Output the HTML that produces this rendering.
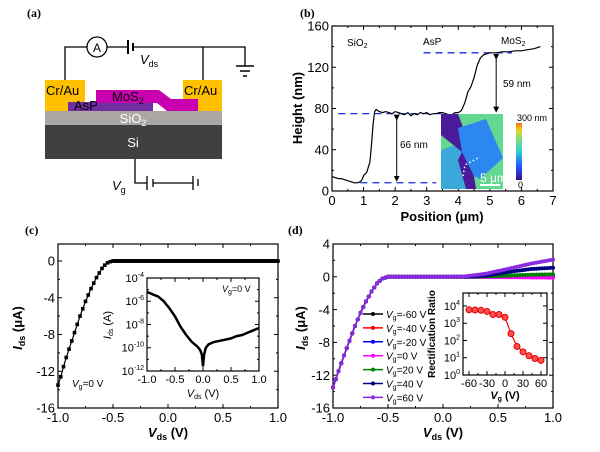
<!DOCTYPE html>
<html><head><meta charset="utf-8"><style>
html,body{margin:0;padding:0;background:#fff}
svg{display:block;font-family:"Liberation Sans",sans-serif}
</style></head><body>
<svg id="fig" width="600" height="452" viewBox="0 0 600 452" xmlns="http://www.w3.org/2000/svg">
<defs>
<linearGradient id="cbar" x1="0" y1="1" x2="0" y2="0">
<stop offset="0" stop-color="#3a0a8a"/><stop offset="0.25" stop-color="#1f5fff"/><stop offset="0.5" stop-color="#2ad0d0"/><stop offset="0.72" stop-color="#7ee07a"/><stop offset="0.88" stop-color="#f0d020"/><stop offset="1" stop-color="#f07010"/>
</linearGradient>
<marker id="arr" markerWidth="6" markerHeight="6" refX="3" refY="3" orient="auto"><path d="M0,0 L6,3 L0,6 z" fill="#000"/></marker>
</defs>
<g>
<text x="27" y="17" font-family="Liberation Serif" font-weight="bold" font-size="12">(a)</text>
<rect x="45" y="125" width="177" height="34" fill="#404040"/>
<text x="133" y="147" fill="#fff" font-size="13" text-anchor="middle">Si</text>
<rect x="45" y="111" width="177" height="14" fill="#aaa7a4"/>
<text x="133" y="123" fill="#fff" font-size="13" text-anchor="middle">SiO<tspan font-size="9" dy="3">2</tspan></text>
<rect x="45" y="80" width="40" height="31" fill="#ffc000"/>
<rect x="183" y="80" width="39" height="31" fill="#ffc000"/>
<rect x="68" y="102" width="85" height="9" fill="#7030a0"/>
<path d="M96,90 L159,90 L171,99 L198,99 L198,111 L167,111 L157,103 L96,103 Z" fill="#c800b0"/>
<text x="46" y="95" font-size="13">Cr/Au</text>
<text x="184" y="95" font-size="13">Cr/Au</text>
<text x="112" y="101" font-size="13">MoS<tspan font-size="9" dy="3">2</tspan></text>
<text x="74" y="110" font-size="13">AsP</text>
<g stroke="#000" stroke-width="1.3" fill="none">
<path d="M65,80 V47 H87 M107,47 H128 M133,47 H245 V66 M203,47 V80"/>
<circle cx="97" cy="47" r="10" fill="#fff"/>
<path d="M128,40 V54 M133,43 V51" stroke-width="2"/>
<path d="M236,66 H254 M240,71 H250 M243,76 H247" stroke-width="1.5"/>
<path d="M135,159 V183 H147 M153,183 H193 M147,176 V190 M153,179 V187 M193,176 V190 M198,179 V186" />
</g>
<text x="97" y="52" font-size="12" text-anchor="middle">A</text>
<text x="140" y="64" font-size="13"><tspan font-style="italic">V</tspan><tspan font-size="9" dy="3">ds</tspan></text>
<text x="112" y="190" font-size="13"><tspan font-style="italic">V</tspan><tspan font-size="9" dy="3">g</tspan></text>
</g>
<g id="pb"></g>
<g id="pc"></g>
<g id="pd"></g>
</svg>
<script>
// Panel b data
const profX = [0,0.1,0.2,0.3,0.4,0.5,0.6,0.7,0.8,0.9,0.95,1.0,1.1,1.2,1.25,1.3,1.35,1.4,1.45,1.5,1.6,1.7,1.8,1.9,2.0,2.1,2.2,2.3,2.4,2.5,2.6,2.7,2.8,2.9,3.0,3.1,3.2,3.3,3.4,3.5,3.6,3.7,3.8,3.9,4.0,4.1,4.2,4.25,4.3,4.4,4.5,4.6,4.7,4.8,4.9,5.0,5.2,5.4,5.6,5.8,6.0,6.2,6.4,6.6];
const profH = [14,13,12,12,11,10,9,8,8,9,11,15,18,28,45,64,77,79,78,77,76,77,76,75,77,76,75,74,76,73,75,74,76,75,76,74,75,75,76,76,75,74,74,76,76,78,85,90,96,101,110,122,129,132,133,134,134,135,135,136,136,137,138,140];
const levelsB = [8,75,134];
const ticksBX = [0,1,2,3,4,5,6,7];
const ticksBY = [0,40,80,120,160];
// Panel c data
const ivX = [-1,-0.975,-0.95,-0.925,-0.9,-0.875,-0.85,-0.825,-0.8,-0.775,-0.75,-0.725,-0.7,-0.675,-0.65,-0.625,-0.6,-0.575,-0.55,-0.525,-0.5,-0.45,-0.4,-0.3,-0.2,0,0.2,0.4,0.6,0.8,1.0];
const ivI = [-13.5,-12.6,-11.5,-10.5,-9.6,-8.7,-7.8,-6.9,-6.0,-5.2,-4.4,-3.7,-3.0,-2.4,-1.8,-1.3,-0.8,-0.45,-0.2,-0.07,0,0,0,0,0,0,0,0,0,0,0];
const ticksCX = [-1.0,-0.5,0.0,0.5,1.0];
const ticksCY = [0,-4,-8,-12,-16];
const logX = [-1,-0.9,-0.8,-0.7,-0.6,-0.5,-0.4,-0.3,-0.2,-0.1,-0.05,-0.02,0,0.02,0.05,0.1,0.2,0.3,0.4,0.5,0.6,0.7,0.8,0.9,1.0];
const logI = [-5.2,-5.4,-5.6,-6.0,-6.6,-7.3,-8.2,-8.9,-9.5,-9.9,-10.2,-10.6,-11.6,-10.6,-10.0,-9.7,-9.5,-9.4,-9.3,-9.2,-9.0,-8.9,-8.7,-8.5,-8.3];
const ticksInsetCY = [-4,-6,-8,-10,-12];
// Panel d data
const vgLabels = ["-60","-40","-20","0","20","40","60"];
const negX = [-1,-0.95,-0.9,-0.85,-0.8,-0.75,-0.7,-0.65,-0.6,-0.55,-0.5,-0.4,-0.3,-0.2,-0.1,0];
const negI = [-13.5,-11.5,-9.6,-7.8,-6.0,-4.4,-3.0,-1.8,-0.8,-0.2,0,0,0,0,0,0];
const posX = [0.2,0.4,0.6,0.8,1.0];
const posI_m60 = [0,0,0,0,0];
const posI_m40 = [0,0,0,0,0];
const posI_m20 = [0,0,0,0.03,0.05];
const posI_0 = [0,-0.03,-0.05,-0.08,-0.1];
const posI_20 = [0,0.05,0.15,0.25,0.3];
const posI_40 = [0,0.15,0.6,0.95,1.1];
const posI_60 = [0.05,0.4,1.0,1.6,2.1];
const ticksDY = [4,0,-4,-8,-12,-16];
const rrVg = [-60,-50,-40,-30,-20,-10,0,10,20,30,40,50,60];
const rrVal = [6000,5800,5600,4800,3200,3200,2200,250,45,22,13,9,7];
const ticksRRX = [-60,-30,0,30,60];
const ticksRRY = [0,1,2,3,4];

const NS="http://www.w3.org/2000/svg";
function mk(parent,tag,attrs){const e=document.createElementNS(NS,tag);for(const k in attrs)e.setAttribute(k,attrs[k]);parent.appendChild(e);return e;}
function txt(parent,x,y,s,size,anchor,extra){const e=mk(parent,'text',Object.assign({x:x,y:y,'font-size':size,'text-anchor':anchor||'start'},extra||{}));e.innerHTML=s;return e;}
function lin(d0,d1,r0,r1){return v=>r0+(v-d0)/(d1-d0)*(r1-r0);}
function interp(xs,ys,x){for(let i=1;i<xs.length;i++){if(x<=xs[i]+1e-9){const t=(x-xs[i-1])/(xs[i]-xs[i-1]);return ys[i-1]+t*(ys[i]-ys[i-1]);}}return ys[ys.length-1];}
function frame(g,x0,y0,x1,y1,sx,sy,xt,yt,fs,fmtX,fmtY,minorX,minorY){
  mk(g,'rect',{x:x0,y:y0,width:x1-x0,height:y1-y0,fill:'none',stroke:'#000','stroke-width':1.2});
  xt.forEach(v=>{const x=sx(v);mk(g,'line',{x1:x,x2:x,y1:y1,y2:y1-4,stroke:'#000'});mk(g,'line',{x1:x,x2:x,y1:y0,y2:y0+4,stroke:'#000'});const t=txt(g,x,y1+fs+1,fmtX(v),fs,'middle');});
  yt.forEach(v=>{const y=sy(v);mk(g,'line',{x1:x0,x2:x0+4,y1:y,y2:y,stroke:'#000'});mk(g,'line',{x1:x1,x2:x1-4,y1:y,y2:y,stroke:'#000'});if(fmtY){const t=txt(g,x0-3,y+fs*0.36,fmtY(v),fs,'end');}});
  (minorX||[]).forEach(v=>{const x=sx(v);mk(g,'line',{x1:x,x2:x,y1:y1,y2:y1-2,stroke:'#000'});mk(g,'line',{x1:x,x2:x,y1:y0,y2:y0+2,stroke:'#000'});});
  (minorY||[]).forEach(v=>{const y=sy(v);mk(g,'line',{x1:x0,x2:x0+2,y1:y,y2:y,stroke:'#000'});mk(g,'line',{x1:x1,x2:x1-2,y1:y,y2:y,stroke:'#000'});});
}
function path(xs,ys,sx,sy){return xs.map((v,i)=>(i?'L':'M')+sx(v).toFixed(1)+','+sy(ys[i]).toFixed(1)).join('');}

// ---------- Panel b ----------
(function(){
const g=document.getElementById('pb');
const sx=lin(0,7,332,553), sy=lin(0,160,191,26);
txt(g,300,17,'(b)',12,'start',{'font-family':'Liberation Serif','font-weight':'bold'});
frame(g,332,26,553,191,sx,sy,ticksBX,ticksBY,13,v=>v,v=>v,[0.5,1.5,2.5,3.5,4.5,5.5,6.5],[20,60,100,140]);
const yl=txt(g,0,0,'Height (nm)',13,'middle',{'font-weight':'bold',transform:'translate(302,108) rotate(-90)'});

const xl=txt(g,442,221,'Position (μm)',13,'middle',{'font-weight':'bold'});

txt(g,347,46,'SiO<tspan font-size="7" dy="2">2</tspan>',10,'start');
txt(g,423,45,'AsP',10,'start');
txt(g,501,44,'MoS<tspan font-size="7" dy="2">2</tspan>',10,'start');
const dl=[[0.9,3.3,levelsB[0]],[0.2,3.5,levelsB[1]],[2.9,5.7,levelsB[2]]];
dl.forEach(d=>{const l=mk(g,'line',{x1:sx(d[0]),x2:sx(d[1]),y1:sy(d[2]),y2:sy(d[2]),stroke:'#1a2fe0','stroke-width':1.3,'stroke-dasharray':'7,5'});});
const p=mk(g,'path',{d:path(profX,profH,sx,sy),fill:'none',stroke:'#000','stroke-width':1.2});

mk(g,'line',{x1:sx(2.05),x2:sx(2.05),y1:sy(levelsB[1])+4,y2:sy(levelsB[0])-4,stroke:'#000','marker-start':'url(#arr)','marker-end':'url(#arr)'});
mk(g,'line',{x1:sx(5.2),x2:sx(5.2),y1:sy(levelsB[2])+4,y2:sy(levelsB[1])-4,stroke:'#000','marker-start':'url(#arr)','marker-end':'url(#arr)'});
txt(g,400,148,'66 nm',10,'start');
txt(g,503,87,'59 nm',10,'start');
const a=mk(g,'g',{});
mk(a,'rect',{x:441,y:114,width:62,height:75,fill:'#62d890'});
mk(a,'polygon',{points:'441,150 470,140 472,189 441,189',fill:'#3aa8d8'});
mk(a,'polygon',{points:'441,114 458,114 468,140 462,152 441,135',fill:'#4a1a9a'});
mk(a,'polygon',{points:'458,128 486,119 503,158 480,179 466,172 462,152',fill:'#2c88f0'});
mk(a,'polygon',{points:'462,152 474,176 476,189 466,189 458,160',fill:'#4a1a9a'});
mk(a,'polyline',{points:'463,176 465,165 478,158 480,157',fill:'none',stroke:'#fff','stroke-width':1.5,'stroke-dasharray':'1.5,2.5'});
mk(a,'line',{x1:480,x2:500,y1:185,y2:185,stroke:'#fff','stroke-width':2});
txt(a,480,182,'5 μm',12,'start',{fill:'#fff'});
mk(a,'rect',{x:516,y:123,width:6,height:57,fill:'url(#cbar)'});
txt(a,517,121,'300 nm',9,'start');
txt(a,518,188,'0',9,'start');
})();

// ---------- Panel c ----------
(function(){
const g=document.getElementById('pc');
const sx=lin(-1,1,58,278), sy=lin(0,-16,261,408);
txt(g,25,234,'(c)',12,'start',{'font-family':'Liberation Serif','font-weight':'bold'});
frame(g,58,244,278,408,sx,sy,ticksCX,ticksCY,13,v=>v.toFixed(1),v=>v,[-0.75,-0.25,0.25,0.75],[-2,-6,-10,-14]);
const yl=txt(g,0,0,'<tspan font-style="italic">I</tspan><tspan font-size="9" dy="3">ds</tspan><tspan dy="-3"> (μA)</tspan>',13,'middle',{'font-weight':'bold',transform:'translate(22,328) rotate(-90)'});

const xl=txt(g,168,437,'<tspan font-style="italic">V</tspan><tspan font-size="9" dy="3">ds</tspan><tspan dy="-3"> (V)</tspan>',13,'middle',{'font-weight':'bold'});

const p=mk(g,'path',{d:path(ivX,ivI,sx,sy),fill:'none',stroke:'#000','stroke-width':1.2});

for(let v=-1;v<=1.0001;v+=0.01){const r=mk(g,'rect',{x:sx(v)-1.8,y:sy(interp(ivX,ivI,v))-1.8,width:3.6,height:3.6,fill:'#000'});if(v<-0.5)v+=0.015;}
txt(g,72,387,'<tspan font-style="italic">V</tspan><tspan font-size="7" dy="2">g</tspan><tspan dy="-2">=0 V</tspan>',10,'start');
const ix=lin(-1,1,147,259), iy=lin(-4,-12,278,371);
const ig=mk(g,'g',{});
mk(ig,'rect',{x:147,y:278,width:112,height:93,fill:'#fff'});
frame(ig,147,278,259,371,ix,iy,ticksCX,ticksInsetCY,11,v=>v.toFixed(1),v=>'10<tspan font-size="7" dy="-5">'+v+'</tspan>',[-0.75,-0.25,0.25,0.75],[-5,-7,-9,-11]);
const ip=mk(ig,'path',{d:path(logX,logI,ix,iy),fill:'none',stroke:'#000','stroke-width':2.5});

txt(ig,0,0,'<tspan font-style="italic">I</tspan><tspan font-size="7" dy="2">ds</tspan><tspan dy="-2"> (A)</tspan>',11,'middle',{transform:'translate(111,325) rotate(-90)'});
txt(ig,203,397,'<tspan font-style="italic">V</tspan><tspan font-size="7" dy="2">ds</tspan><tspan dy="-2"> (V)</tspan>',11,'middle');
txt(ig,222,292,'<tspan font-style="italic">V</tspan><tspan font-size="7" dy="2">g</tspan><tspan dy="-2">=0 V</tspan>',9,'start');
})();

// ---------- Panel d ----------
(function(){
const g=document.getElementById('pd');
const sx=lin(-1,1,333,553), sy=lin(4,-16,244,408);
txt(g,288,234,'(d)',12,'start',{'font-family':'Liberation Serif','font-weight':'bold'});
frame(g,333,244,553,408,sx,sy,ticksCX,ticksDY,13,v=>v.toFixed(1),v=>v,[-0.75,-0.25,0.25,0.75],[2,-2,-6,-10,-14]);
const yl=txt(g,0,0,'<tspan font-style="italic">I</tspan><tspan font-size="9" dy="3">ds</tspan><tspan dy="-3"> (μA)</tspan>',13,'middle',{'font-weight':'bold',transform:'translate(305,328) rotate(-90)'});

const xl=txt(g,443,437,'<tspan font-style="italic">V</tspan><tspan font-size="9" dy="3">ds</tspan><tspan dy="-3"> (V)</tspan>',13,'middle',{'font-weight':'bold'});

const colors=['#000000','#ff0000','#0000ff','#ff00ff','#008000','#000080','#8a2be2'];
const pos=[posI_m60,posI_m40,posI_m20,posI_0,posI_20,posI_40,posI_60];
pos.forEach((pp,k)=>{
  const xs=negX.concat(posX), ys=negI.concat(pp);
  const p=mk(g,'path',{d:path(xs,ys,sx,sy),fill:'none',stroke:colors[k],'stroke-width':1.5});
  
  
  for(let v=-1;v<=1.0001;v+=0.025){const c=mk(g,'circle',{cx:sx(v),cy:sy(interp(xs,ys,v)),r:2,fill:colors[k]});
    
    }
  const ly=314+k*13.9;
  const le=mk(g,'g',{});
  
  
  mk(le,'line',{x1:363,x2:383,y1:ly,y2:ly,stroke:colors[k],'stroke-width':1.5});
  mk(le,'circle',{cx:373,cy:ly,r:2,fill:colors[k]});
  txt(le,386,ly+4,'<tspan font-style="italic">V</tspan><tspan font-size="7" dy="2">g</tspan><tspan dy="-2">='+vgLabels[k]+' V</tspan>',10,'start');
});
const ix=lin(-70,70,463,547), iy=lin(0,4.75,375,293);
const ig=mk(g,'g',{});
mk(ig,'rect',{x:463,y:293,width:84,height:82,fill:'#fff'});
frame(ig,463,293,547,375,ix,iy,ticksRRX,ticksRRY,11,v=>v,v=>'10<tspan font-size="7" dy="-5">'+v+'</tspan>',[-45,-15,15,45],[]);
const lg=rrVal.map(v=>Math.log10(v));
const rp=mk(ig,'path',{d:path(rrVg,lg,ix,iy),fill:'none',stroke:'#ff0000','stroke-width':1.2});

rrVg.forEach((v,i)=>{const c=mk(ig,'circle',{cx:ix(v),cy:iy(lg[i]),r:3,fill:'#ff5050',stroke:'#e00000'});});
txt(ig,0,0,'Rectification Ratio',10,'middle',{'font-weight':'bold',transform:'translate(435,334) rotate(-90)'});
txt(ig,505,399,'<tspan font-style="italic">V</tspan><tspan font-size="7" dy="2">g</tspan><tspan dy="-2"> (V)</tspan>',11,'middle',{'font-weight':'bold'});
})();
</script>
</body></html>
